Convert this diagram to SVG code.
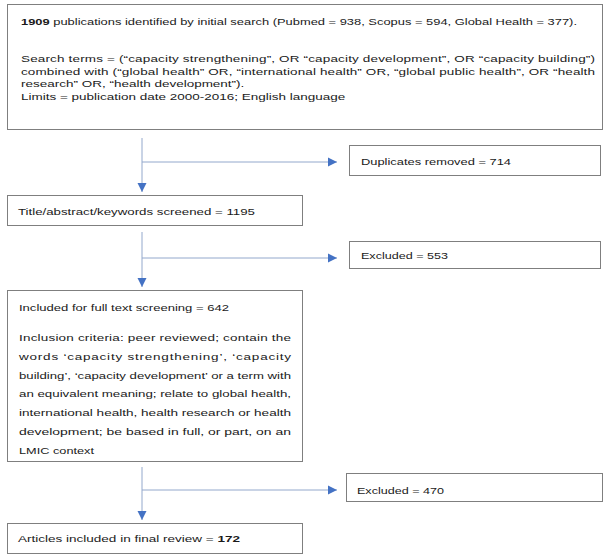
<svg xmlns="http://www.w3.org/2000/svg" width="605" height="556" viewBox="0 0 605 556">
<defs>
<style>
.box{fill:#fff;stroke:#7f7f7f;stroke-width:1}
.t{font-family:"Liberation Sans",Arial,sans-serif;font-size:13.5px;fill:#1a1a1a}
.b{font-weight:bold}
.c{stroke:#93a8cc;stroke-width:1;fill:none}
</style>
<marker id="ah" markerUnits="userSpaceOnUse" markerWidth="10" markerHeight="10" viewBox="0 0 10 10" refX="9" refY="5" orient="auto">
<path d="M0,0.5 L9,5 L0,9.5 Z" fill="#4472c4"/>
</marker>
</defs>
<rect width="605" height="556" fill="#fff"/>
<g id="search">
<rect class="box" x="7.5" y="4.5" width="595" height="125"/>
<text class="t" transform="matrix(1 0 0 0.72 0 24.5)" x="21" y="0" textLength="556" lengthAdjust="spacingAndGlyphs"><tspan class="b">1909</tspan> publications identified by initial search (Pubmed = 938, Scopus = 594, Global Health = 377).</text>
<text class="t" transform="matrix(1 0 0 0.72 0 62)" x="21" y="0" textLength="574" lengthAdjust="spacing">Search terms = (“capacity strengthening”, OR “capacity development”, OR “capacity building”)</text>
<text class="t" transform="matrix(1 0 0 0.72 0 75)" x="21" y="0" textLength="574" lengthAdjust="spacing">combined with (“global health” OR, “international health” OR, “global public health”, OR “health</text>
<text class="t" transform="matrix(1 0 0 0.72 0 87)" x="21" y="0">research” OR, “health development”).</text>
<text class="t" transform="matrix(1 0 0 0.72 0 100)" x="21" y="0">Limits = publication date 2000-2016; English language</text>
</g>
<g id="duplicates">
<rect class="box" x="349.5" y="145.5" width="251" height="30"/>
<text class="t" transform="matrix(1 0 0 0.72 0 164.5)" x="361" y="0" textLength="150" lengthAdjust="spacingAndGlyphs">Duplicates removed = 714</text>
</g>
<g id="screened">
<rect class="box" x="7.5" y="195.5" width="295" height="30"/>
<text class="t" transform="matrix(1 0 0 0.72 0 214.5)" x="18" y="0" textLength="237" lengthAdjust="spacingAndGlyphs">Title/abstract/keywords screened = 1195</text>
</g>
<g id="excluded1">
<rect class="box" x="349.5" y="241.5" width="251" height="27"/>
<text class="t" transform="matrix(1 0 0 0.72 0 259)" x="361" y="0" textLength="87" lengthAdjust="spacingAndGlyphs">Excluded = 553</text>
</g>
<g id="fulltext">
<rect class="box" x="7.5" y="290.5" width="295" height="171"/>
<text class="t" transform="matrix(1 0 0 0.72 0 310.5)" x="19" y="0" textLength="210" lengthAdjust="spacingAndGlyphs">Included for full text screening = 642</text>
<text class="t" transform="matrix(1 0 0 0.72 0 340.5)" x="19" y="0" textLength="272" lengthAdjust="spacing">Inclusion criteria: peer reviewed; contain the</text>
<text class="t" transform="matrix(1 0 0 0.72 0 359.5)" x="19" y="0" textLength="272" lengthAdjust="spacing">words ‘capacity strengthening’, ‘capacity</text>
<text class="t" transform="matrix(1 0 0 0.72 0 378.5)" x="19" y="0" textLength="272" lengthAdjust="spacingAndGlyphs">building’, ‘capacity development’ or a term with</text>
<text class="t" transform="matrix(1 0 0 0.72 0 396.5)" x="19" y="0" textLength="272" lengthAdjust="spacingAndGlyphs">an equivalent meaning; relate to global health,</text>
<text class="t" transform="matrix(1 0 0 0.72 0 415.5)" x="19" y="0" textLength="272" lengthAdjust="spacingAndGlyphs">international health, health research or health</text>
<text class="t" transform="matrix(1 0 0 0.72 0 434.5)" x="19" y="0" textLength="272" lengthAdjust="spacingAndGlyphs">development; be based in full, or part, on an</text>
<text class="t" transform="matrix(1 0 0 0.72 0 453.5)" x="19" y="0" textLength="75" lengthAdjust="spacingAndGlyphs">LMIC context</text>
</g>
<g id="excluded2">
<rect class="box" x="346.5" y="473.5" width="256" height="28"/>
<text class="t" transform="matrix(1 0 0 0.72 0 493.5)" x="357" y="0" textLength="87" lengthAdjust="spacingAndGlyphs">Excluded = 470</text>
</g>
<g id="final">
<rect class="box" x="7.5" y="523.5" width="295" height="30"/>
<text class="t" transform="matrix(1 0 0 0.72 0 541.5)" x="18" y="0" textLength="222" lengthAdjust="spacingAndGlyphs">Articles included in final review = <tspan class="b">172</tspan></text>
</g>
<g id="connectors">
<line class="c" x1="142" y1="138" x2="142" y2="192" marker-end="url(#ah)"/>
<line class="c" x1="142" y1="162" x2="337" y2="162" marker-end="url(#ah)"/>
<line class="c" x1="142" y1="232" x2="142" y2="287" marker-end="url(#ah)"/>
<line class="c" x1="142" y1="258" x2="337" y2="258" marker-end="url(#ah)"/>
<line class="c" x1="142" y1="467" x2="142" y2="520" marker-end="url(#ah)"/>
<line class="c" x1="142" y1="490" x2="337" y2="490" marker-end="url(#ah)"/>
</g>
</svg>
